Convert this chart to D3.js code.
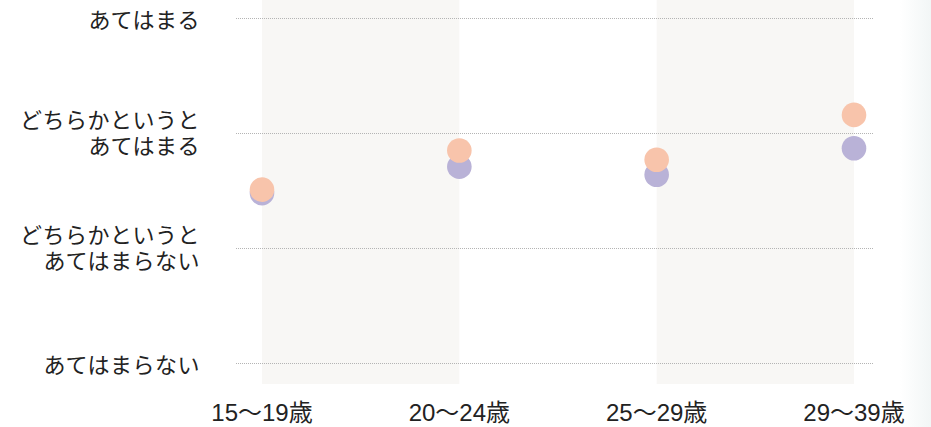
<!DOCTYPE html>
<html>
<head>
<meta charset="utf-8">
<script src="https://cdn.jsdelivr.net/npm/d3@7"></script>
<style>
  html, body { margin: 0; padding: 0; background: #ffffff; }
  svg { display: block; }
</style>
</head>
<body>
<div id="chart"></div>
<script>
// Age groups along the x axis
const categories = ["15～19歳", "20～24歳", "25～29歳", "29～39歳"];
// Agreement scale (1 = あてはまらない … 4 = あてはまる)
const levelValues = [1, 2, 3, 4];
const levelLabels = [
  ["あてはまらない"],
  ["どちらかというと", "あてはまらない"],
  ["どちらかというと", "あてはまる"],
  ["あてはまる"]
];
// Mean scores per age group
const seriesPurple = [2.48, 2.71, 2.64, 2.87];
const seriesOrange = [2.51, 2.85, 2.77, 3.16];

const width = 931, height = 427;
const svg = d3.select("#chart").append("svg")
  .attr("width", width).attr("height", height);

const x = d3.scalePoint().domain(categories).range([262, 854]);
const y = d3.scaleLinear().domain([1, 4]).range([363.3, 18.3]);

// soft tint fading in along the right edge
const defs = svg.append("defs");
const grad = defs.append("linearGradient").attr("id", "edgeTint")
  .attr("x1", "0").attr("x2", "1").attr("y1", "0").attr("y2", "0");
grad.append("stop").attr("offset", "0").attr("stop-color", "#ffffff");
grad.append("stop").attr("offset", "1").attr("stop-color", "#f2f6f6");
svg.append("rect").attr("x", 900).attr("y", 0).attr("width", 31).attr("height", height)
  .attr("fill", "url(#edgeTint)");

// alternating shaded bands between age groups
const bandPairs = [[0, 1], [2, 3]];
svg.append("g").selectAll("rect").data(bandPairs).join("rect")
  .attr("x", d => x(categories[d[0]]))
  .attr("width", d => x(categories[d[1]]) - x(categories[d[0]]))
  .attr("y", 0)
  .attr("height", 384)
  .attr("fill", "#f8f7f5");

// dotted gridlines
svg.append("g").selectAll("line").data(levelValues).join("line")
  .attr("x1", 236).attr("x2", 874)
  .attr("y1", d => Math.round(y(d)) + 0.5)
  .attr("y2", d => Math.round(y(d)) + 0.5)
  .attr("stroke", "#b4b4b4")
  .attr("stroke-width", 1)
  .attr("stroke-dasharray", "1,1");

// y labels (right aligned, one text element per line)
const yLab = svg.append("g")
  .attr("font-family", "'Noto Sans CJK JP', sans-serif")
  .attr("font-size", 22)
  .attr("letter-spacing", "0.5px")
  .attr("fill", "#222");
levelValues.forEach((v, i) => {
  const lines = levelLabels[i];
  const offsets = lines.length === 1 ? [0] : [-15, 10.5];
  lines.forEach((line, j) => {
    yLab.append("text")
      .attr("x", 200)
      .attr("y", y(v) + offsets[j])
      .attr("text-anchor", "end")
      .attr("dominant-baseline", "central")
      .text(line);
  });
});

// x labels
svg.append("g")
  .attr("font-family", "'Liberation Sans', 'Noto Sans CJK JP', sans-serif")
  .attr("font-size", 24)
  .attr("fill", "#222")
  .selectAll("text").data(categories).join("text")
  .attr("x", d => x(d))
  .attr("y", 421)
  .attr("text-anchor", "middle")
  .text(d => d);

// points: purple underneath, orange on top
svg.append("g").selectAll("circle").data(seriesPurple).join("circle")
  .attr("cx", (d, i) => x(categories[i]))
  .attr("cy", d => y(d))
  .attr("r", 12.3)
  .attr("fill", "#b9b2d7");

svg.append("g").selectAll("circle").data(seriesOrange).join("circle")
  .attr("cx", (d, i) => x(categories[i]))
  .attr("cy", d => y(d))
  .attr("r", 12.3)
  .attr("fill", "#f8c4ab");
</script>
</body>
</html>
